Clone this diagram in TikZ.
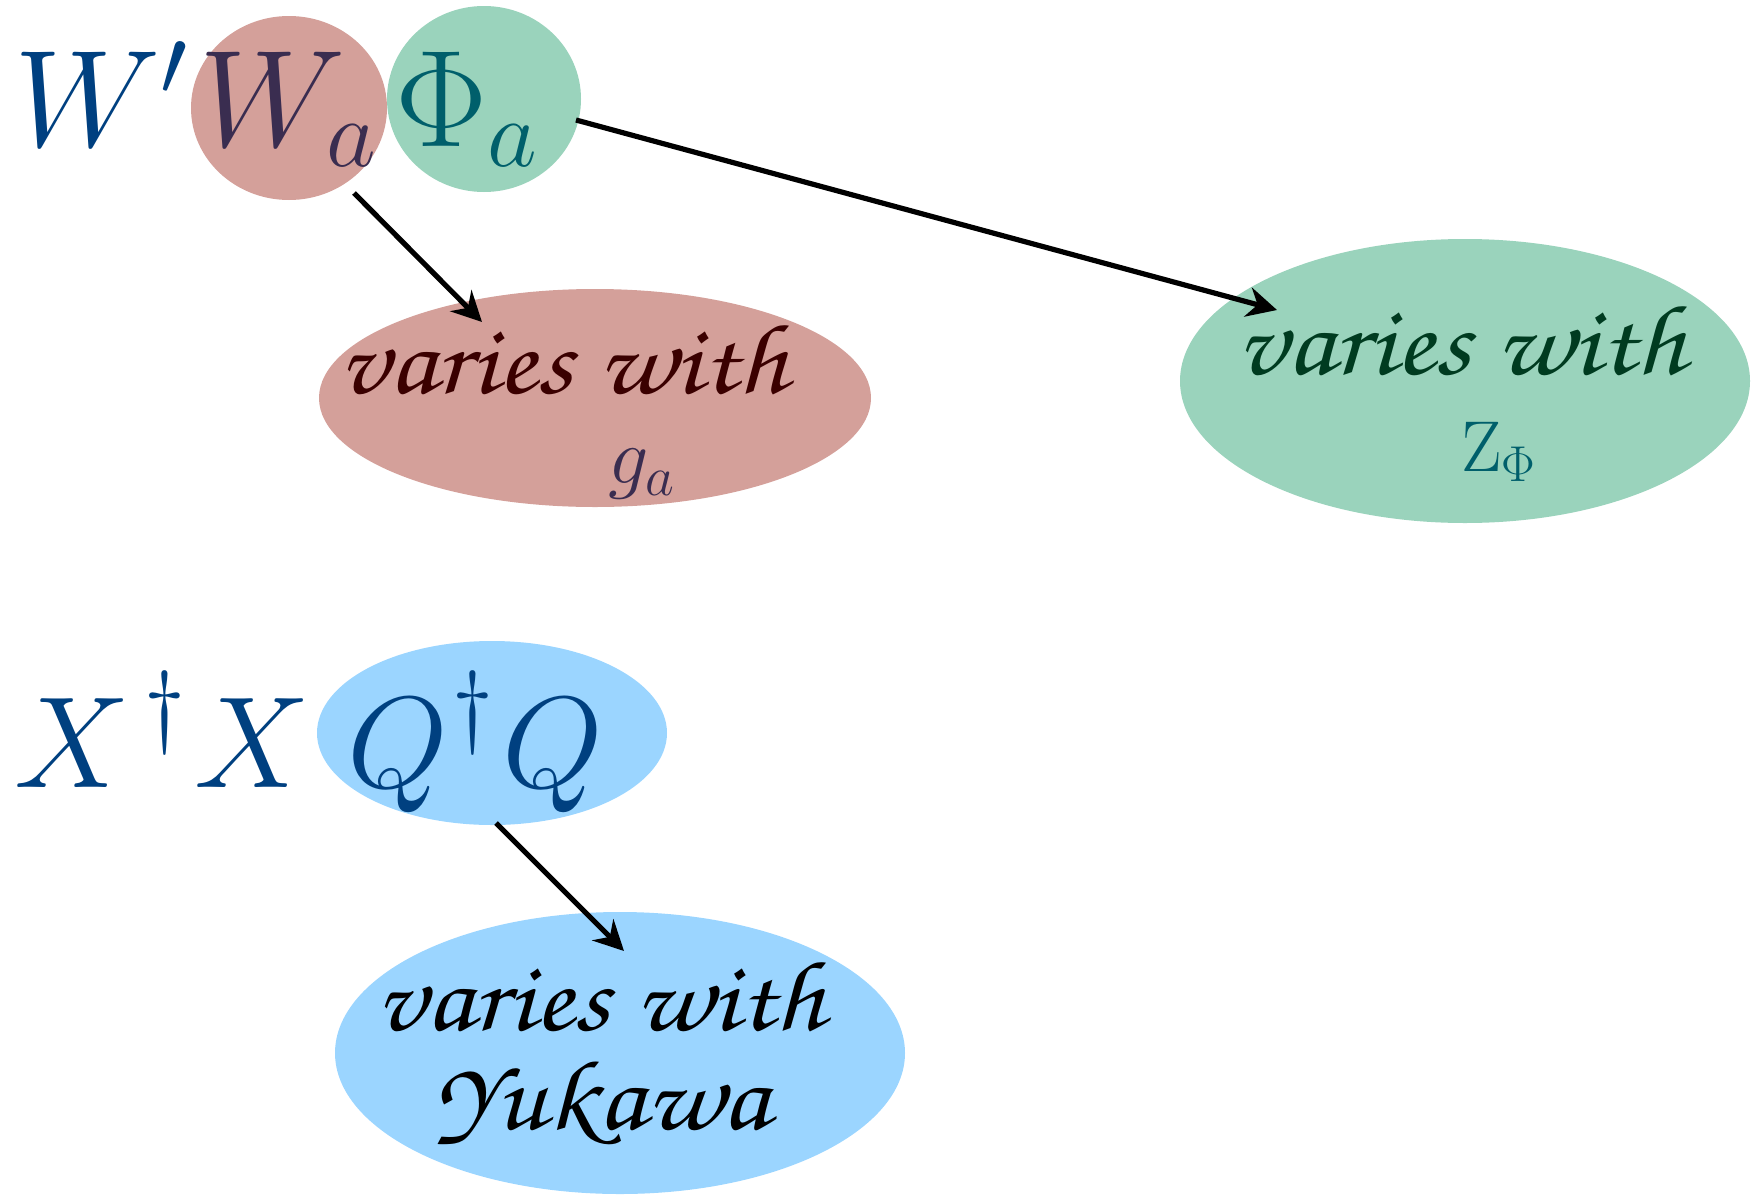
\RequirePackage{fix-cm}
\documentclass[tikz,border=0pt]{standalone}
\usepackage{amsmath}
\usetikzlibrary{shapes.geometric,arrows.meta}

\definecolor{deepblue}{RGB}{0,64,128}
\definecolor{plumink}{RGB}{58,45,80}
\definecolor{rosefill}{RGB}{212,160,154}
\definecolor{mintfill}{RGB}{154,211,188}
\definecolor{tealink}{RGB}{0,95,107}
\definecolor{maroonink}{RGB}{58,0,0}
\definecolor{pineink}{RGB}{0,59,32}
\definecolor{skyfill}{RGB}{155,213,255}

\newcommand\chancery{\fontencoding{T1}\fontfamily{pzc}\fontseries{mb}\fontshape{it}\selectfont}
\newcommand\widen[1]{\scalebox{1.13}[1]{#1}}
% a large raised dagger between two capitals
\newcommand\bigdag{\raisebox{26pt}{\fontsize{46}{50}\selectfont$\dagger$}}

\tikzset{
  blob/.style={ellipse, inner sep=0pt, draw=none},
  txt/.style={inner sep=0pt, anchor=base west},
  arr/.style={-{Stealth[length=15pt,width=15pt,inset=5pt]}, line width=2.6pt, black},
  vary/.style={inner sep=0pt, anchor=base, font=\chancery\fontsize{50}{60}\selectfont},
}

\begin{document}
\begin{tikzpicture}[x=0.5pt,y=-0.5pt]
\useasboundingbox (0,0) rectangle (1761,1194);

% coloured blobs
\node[blob, fill=rosefill, minimum width=98pt,  minimum height=92pt]  (wa)   at (289,108)  {};
\node[blob, fill=mintfill, minimum width=97pt,  minimum height=93pt]  (phi)  at (484,99)   {};
\node[blob, fill=rosefill, minimum width=276pt, minimum height=109pt] (gbox) at (595,398)  {};
\node[blob, fill=mintfill, minimum width=285pt, minimum height=142pt] (zbox) at (1465,381) {};
\node[blob, fill=skyfill,  minimum width=175pt, minimum height=92pt]  (qq)   at (492,733)  {};
\node[blob, fill=skyfill,  minimum width=285pt, minimum height=141pt] (ybox) at (620,1053) {};

% field symbols
\node[txt, text=deepblue, font=\fontsize{69}{80}\selectfont] (wplabel)  at (14,146)  {$W'$};
\node[txt, text=plumink,  font=\fontsize{69}{80}\selectfont] (walabel)  at (199,146) {$W_a$};
\node[txt, text=tealink,  font=\fontsize{69}{80}\selectfont] (philabel) at (395,146) {$\Phi_a$};
\node[txt, text=deepblue, font=\fontsize{65}{70}\selectfont] (xxlabel)  at (14,787)
  {$X$\kern7pt\bigdag\kern4.5pt$X$};
\node[txt, text=deepblue, font=\fontsize{65}{70}\selectfont] (qqlabel)  at (347,787)
  {$Q$\kern2pt\bigdag\kern4.5pt$Q$};

% descriptions
\node[vary, text=maroonink] (gtext) at (563,393)  {\widen{varies with}};
\node[txt, text=plumink, font=\fontsize{40}{48}\selectfont] (glabel) at (608,483) {$g_a$};
\node[vary, text=pineink]   (ztext) at (1461,374) {\widen{varies with}};
\node[txt, text=tealink, font=\fontsize{36}{44}\selectfont] (zlabel) at (1461,471) {$\mathrm{Z}_\Phi$};
\node[vary, text=black]     (ytext) at (600,1030) {\widen{varies with}};
\node[vary, text=black]     (yuk)   at (602,1129) {\widen{Yukawa}};

% arrows
\coordinate (a1s) at (354,193);  \coordinate (a1e) at (482,322);
\coordinate (a2s) at (576,120);  \coordinate (a2e) at (1277,310);
\coordinate (a3s) at (496,823);  \coordinate (a3e) at (624,951);
\draw[arr] (a1s) -- (a1e);
\draw[arr] (a2s) -- (a2e);
\draw[arr] (a3s) -- (a3e);
\end{tikzpicture}
\end{document}
